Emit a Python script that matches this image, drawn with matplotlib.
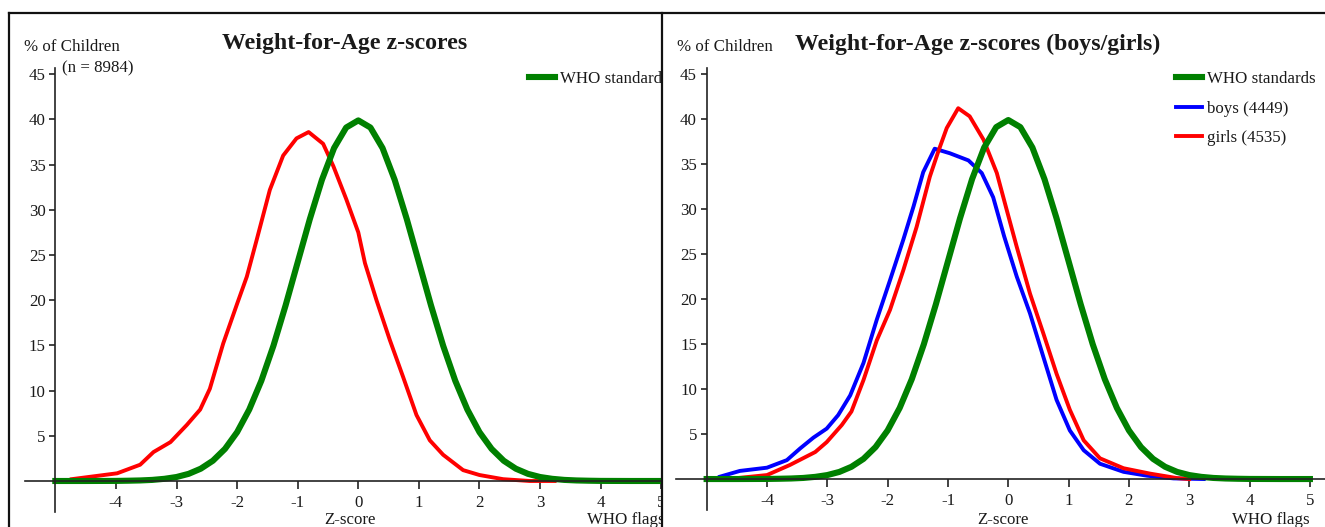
import matplotlib
matplotlib.use("Agg")
import matplotlib.pyplot as plt
from matplotlib.lines import Line2D

plt.rcParams['font.family'] = ['Liberation Serif', 'DejaVu Serif']

# --- Datos ---

# WHO standard (z-score, % of children)
z_who = [-5.0, -4.5, -4.0, -3.8, -3.6, -3.4, -3.2, -3.0, -2.8, -2.6, -2.4, -2.2,
         -2.0, -1.8, -1.6, -1.4, -1.2, -1.0, -0.8, -0.6, -0.4, -0.2, 0.0,
         0.2, 0.4, 0.6, 0.8, 1.0, 1.2, 1.4, 1.6, 1.8, 2.0, 2.2, 2.4, 2.6,
         2.8, 3.0, 3.2, 3.4, 3.6, 3.8, 4.0, 4.5, 5.0]
v_who = [0.0, 0.0, 0.01, 0.03, 0.06, 0.12, 0.24, 0.44, 0.79, 1.36, 2.24, 3.55,
         5.4, 7.9, 11.09, 14.97, 19.42, 24.2, 28.97, 33.32, 36.83, 39.1, 39.89,
         39.1, 36.83, 33.32, 28.97, 24.2, 19.42, 14.97, 11.09, 7.9, 5.4, 3.55, 2.24, 1.36,
         0.79, 0.44, 0.24, 0.12, 0.06, 0.03, 0.01, 0.0, 0.0]

# all children (n = 8984)
z_all = [-4.73, -3.98, -3.6, -3.38, -3.1, -2.83, -2.61, -2.45, -2.23, -2.0, -1.84,
         -1.68, -1.46, -1.24, -1.02, -0.82, -0.58, -0.41, -0.2, 0.0, 0.11, 0.3, 0.52,
         0.74, 0.96, 1.18, 1.4, 1.73, 2.0, 2.39, 2.83, 3.24]
v_all = [0.2, 0.85, 1.8, 3.2, 4.3, 6.2, 7.9, 10.2, 15.2, 19.6, 22.6,
         26.6, 32.2, 36.0, 37.9, 38.6, 37.3, 34.8, 31.2, 27.5, 24.1, 20.0, 15.6,
         11.5, 7.3, 4.5, 2.9, 1.2, 0.66, 0.2, 0.0, 0.0]

# boys (4449)
z_boys = [-4.78, -4.45, -4.0, -3.67, -3.45, -3.23, -3.01, -2.82, -2.62, -2.4, -2.18,
          -1.96, -1.74, -1.57, -1.41, -1.22, -0.97, -0.66, -0.44, -0.25, -0.07, 0.14,
          0.36, 0.58, 0.8, 1.02, 1.25, 1.52, 1.91, 2.3, 2.74, 3.24]
v_boys = [0.26, 0.9, 1.26, 2.1, 3.4, 4.6, 5.6, 7.1, 9.3, 12.9, 17.7,
          22.1, 26.6, 30.3, 34.1, 36.7, 36.2, 35.4, 34.0, 31.3, 27.0, 22.5,
          18.4, 13.6, 8.8, 5.4, 3.2, 1.7, 0.8, 0.37, 0.07, 0.0]

# girls (4535)
z_girls = [-4.5, -4.0, -3.62, -3.2, -3.01, -2.76, -2.6, -2.4, -2.18, -1.96, -1.74,
           -1.52, -1.3, -1.16, -1.02, -0.83, -0.64, -0.41, -0.19, -0.03, 0.14, 0.36,
           0.58, 0.8, 1.02, 1.25, 1.52, 1.91, 2.35, 2.8, 3.0]
v_girls = [0.1, 0.44, 1.56, 3.0, 4.1, 6.0, 7.5, 11.0, 15.4, 18.8, 23.2,
           28.0, 33.6, 36.4, 39.0, 41.2, 40.3, 37.7, 34.0, 30.0, 25.8, 20.6,
           16.2, 11.7, 7.7, 4.3, 2.3, 1.2, 0.6, 0.1, 0.0]

x_ticks = [-4, -3, -2, -1, 0, 1, 2, 3, 4, 5]
y_ticks = [5, 10, 15, 20, 25, 30, 35, 40, 45]

W, H = 1325, 527
fig = plt.figure(figsize=(W / 100, H / 100), dpi=100)
TXT = '#1a1a1a'
FS = 12.2


def px(x0, y0, w, h):
    return [x0 / W, 1 - (y0 + h) / H, w / W, h / H]


def estilo_ejes(ax, xlim, ylim):
    ax.set_xlim(*xlim)
    ax.set_ylim(*ylim)
    for s in ['top', 'right']:
        ax.spines[s].set_visible(False)
    ax.spines['left'].set_position(('data', -5))
    ax.spines['bottom'].set_position(('data', 0))
    ax.spines['left'].set_bounds(-3.4, 45.7)
    ax.spines['bottom'].set_bounds(-5.5, 5.6)
    for s in ['left', 'bottom']:
        ax.spines[s].set_color('#222222')
        ax.spines[s].set_linewidth(1.2)
    ax.set_xticks(x_ticks)
    ax.set_yticks(y_ticks)
    ax.tick_params(axis='x', direction='out', length=6, width=1.2, pad=4,
                   labelsize=FS, colors='#222222', labelcolor=TXT)
    ax.tick_params(axis='y', direction='out', length=4, width=1.2, pad=3,
                   labelsize=FS, colors='#222222', labelcolor=TXT)
    ax.set_xticklabels([str(t) for t in x_ticks])


def leyenda(ax, handles, labels, x, y):
    ax.legend(handles, labels, loc='upper left', bbox_to_anchor=(x / W, 1 - y / H),
              bbox_transform=fig.transFigure, frameon=False, fontsize=FS,
              handlelength=1.5, handletextpad=0.35, labelspacing=0.8,
              borderaxespad=0, borderpad=0.3, labelcolor=TXT)


# --- Panel izquierdo ---
ax1 = fig.add_axes(px(10, 13, 652, 514))
estilo_ejes(ax1, (-5.748, 5.012), (-5.09, 51.77))
ax1.plot(z_all, v_all, color='#ff0000', lw=2.8, solid_joinstyle='round')
ax1.plot(z_who, v_who, color='#008000', lw=4.4, label='WHO standards',
         solid_joinstyle='round')
h1, l1 = ax1.get_legend_handles_labels()
leyenda(ax1, h1, l1, 524, 66)
fig.text(345 / W, 1 - 44 / H, 'Weight-for-Age z-scores', ha='center', va='center',
         fontsize=17.2, fontweight='bold', color=TXT)
fig.text(24 / W, 1 - 47 / H, '% of Children', ha='left', va='center', fontsize=FS,
         color=TXT)
fig.text(62 / W, 1 - 68 / H, '(n = 8984)', ha='left', va='center', fontsize=FS,
         color=TXT)
fig.text(350 / W, 1 - 520 / H, 'Z-score', ha='center', va='center', fontsize=FS,
         color=TXT)
# "WHO flags" del panel izquierdo, recortado por el panel derecho
ax1.annotate('WHO flags', xy=(587 / W, 1 - 520 / H), xycoords='figure fraction',
             ha='left', va='center', fontsize=FS, color=TXT, annotation_clip=False)

# --- Panel derecho ---
ax2 = fig.add_axes(px(662, 13, 663, 514))
ax2.set_zorder(1)
estilo_ejes(ax2, (-5.74, 5.25), (-5.33, 51.78))
ax2.plot(z_boys, v_boys, color='#0000ff', lw=2.8, label='boys (4449)',
         solid_joinstyle='round')
ax2.plot(z_girls, v_girls, color='#ff0000', lw=2.8, label='girls (4535)',
         solid_joinstyle='round')
ax2.plot(z_who, v_who, color='#008000', lw=4.4, label='WHO standards',
         solid_joinstyle='round')
h2, l2 = ax2.get_legend_handles_labels()
orden = [2, 0, 1]
leyenda(ax2, [h2[i] for i in orden], [l2[i] for i in orden], 1171, 66)
fig.text(978 / W, 1 - 44 / H, 'Weight-for-Age z-scores (boys/girls)', ha='center',
         va='center', fontsize=17.2, fontweight='bold', color=TXT)
fig.text(677 / W, 1 - 47 / H, '% of Children', ha='left', va='center', fontsize=FS,
         color=TXT)
fig.text(1003 / W, 1 - 520 / H, 'Z-score', ha='center', va='center', fontsize=FS,
         color=TXT)
fig.text(1271 / W, 1 - 520 / H, 'WHO flags', ha='center', va='center', fontsize=FS,
         color=TXT, zorder=3)

# --- Marcos ---
for xs, ys in [([9, 1325], [13, 13]), ([9, 9], [13, 527]), ([662, 662], [13, 527])]:
    fig.add_artist(Line2D([x / W for x in xs], [1 - y / H for y in ys],
                          color='#111111', lw=1.6, zorder=5))

fig.savefig('out.png', dpi=100)
